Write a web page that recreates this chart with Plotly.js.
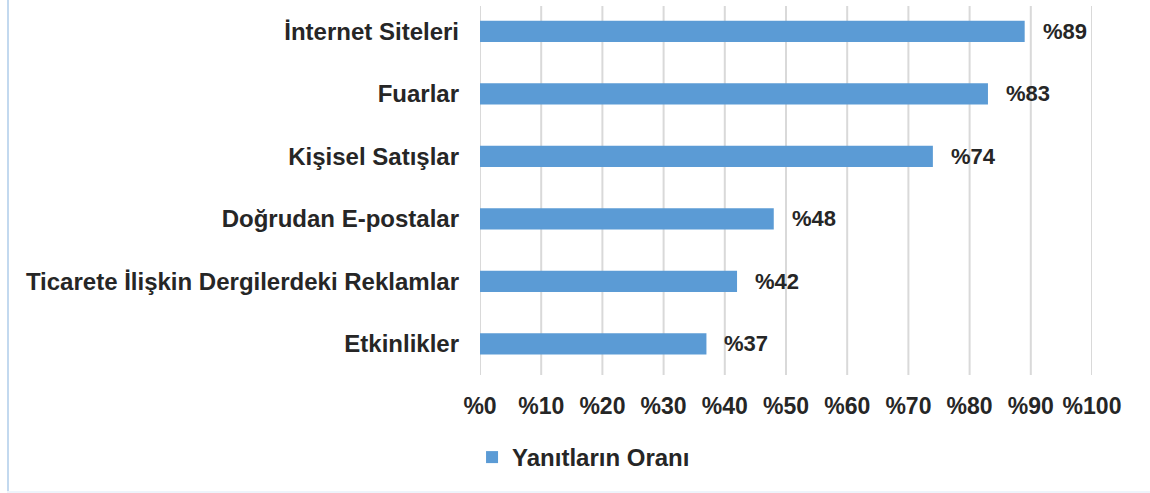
<!DOCTYPE html>
<html>
<head>
<meta charset="utf-8">
<script src="https://cdn.plot.ly/plotly-3.0.1.min.js"></script>
<style>
  html, body { margin: 0; padding: 0; background: #fff; }
  #wrap { position: relative; width: 1150px; height: 493px; overflow: hidden; }
  #chart { position: absolute; left: 0; top: 0; width: 1150px; height: 493px; }
  #lb { position: absolute; left: 7px; top: 0; width: 2px; height: 493px; background: #c3d9ef; }
  #bb { position: absolute; left: 7px; top: 491px; width: 1143px; height: 2px; background: #eef4fb; }
</style>
</head>
<body>
<div id="wrap">
  <div id="chart"></div>
  <div id="lb"></div>
  <div id="bb"></div>
</div>
<script>
const categories = [
  "İnternet Siteleri",
  "Fuarlar",
  "Kişisel Satışlar",
  "Doğrudan E-postalar",
  "Ticarete İlişkin Dergilerdeki Reklamlar",
  "Etkinlikler"
];
const values = [89, 83, 74, 48, 42, 37];
const seriesName = "Yanıtların Oranı";
const tickValues = [0, 10, 20, 30, 40, 50, 60, 70, 80, 90, 100];
const tickLabels = ["%0", "%10", "%20", "%30", "%40", "%50", "%60", "%70", "%80", "%90", "%100"];

const fontFam = "Liberation Sans, Arial, sans-serif";
const textColor = "#262626";

const trace = {
  type: "bar",
  orientation: "h",
  y: categories,
  x: values,
  name: seriesName,
  marker: { color: "#5b9bd5" },
  width: 0.34,
  hoverinfo: "none"
};

const gridShapes = tickValues.map(v => ({
  type: "line",
  xref: "x", yref: "paper",
  x0: v, x1: v, y0: 0, y1: 0.984,
  line: { color: "#d9d9d9", width: 2 },
  layer: "below"
}));

const labelAnnots = values.map((v, i) => ({
  x: v, y: categories[i],
  xref: "x", yref: "y",
  text: "<b>%" + v + "</b>",
  showarrow: false,
  xanchor: "left",
  yanchor: "middle",
  xshift: 16,
  font: { family: fontFam, size: 22, color: textColor }
}));

const layout = {
  width: 1150,
  height: 493,
  margin: { l: 480, r: 58, t: 0, b: 118 },
  paper_bgcolor: "rgba(0,0,0,0)",
  plot_bgcolor: "rgba(0,0,0,0)",
  showlegend: true,
  legend: {
    orientation: "h",
    x: -0.013, xanchor: "left",
    y: -0.22, yanchor: "middle",
    font: { family: fontFam, size: 24, color: textColor, weight: "bold" },
    itemwidth: 30
  },
  xaxis: {
    range: [0, 100],
    tickvals: tickValues,
    ticktext: tickLabels,
    showgrid: false,
    zeroline: false,
    showline: false,
    ticks: "",
    ticklen: 0,
    ticklabelstandoff: 15,
    tickfont: { family: fontFam, size: 23, color: textColor, weight: "bold" },
    automargin: false,
    fixedrange: true
  },
  yaxis: {
    autorange: "reversed",
    showgrid: false,
    zeroline: false,
    showline: false,
    ticks: "",
    ticklabelstandoff: 20,
    tickfont: { family: fontFam, size: 24, color: textColor, weight: "bold" },
    automargin: false,
    fixedrange: true
  },
  shapes: gridShapes,
  annotations: labelAnnots
};

Plotly.newPlot("chart", [trace], layout, { displayModeBar: false, staticPlot: true });
</script>
</body>
</html>
